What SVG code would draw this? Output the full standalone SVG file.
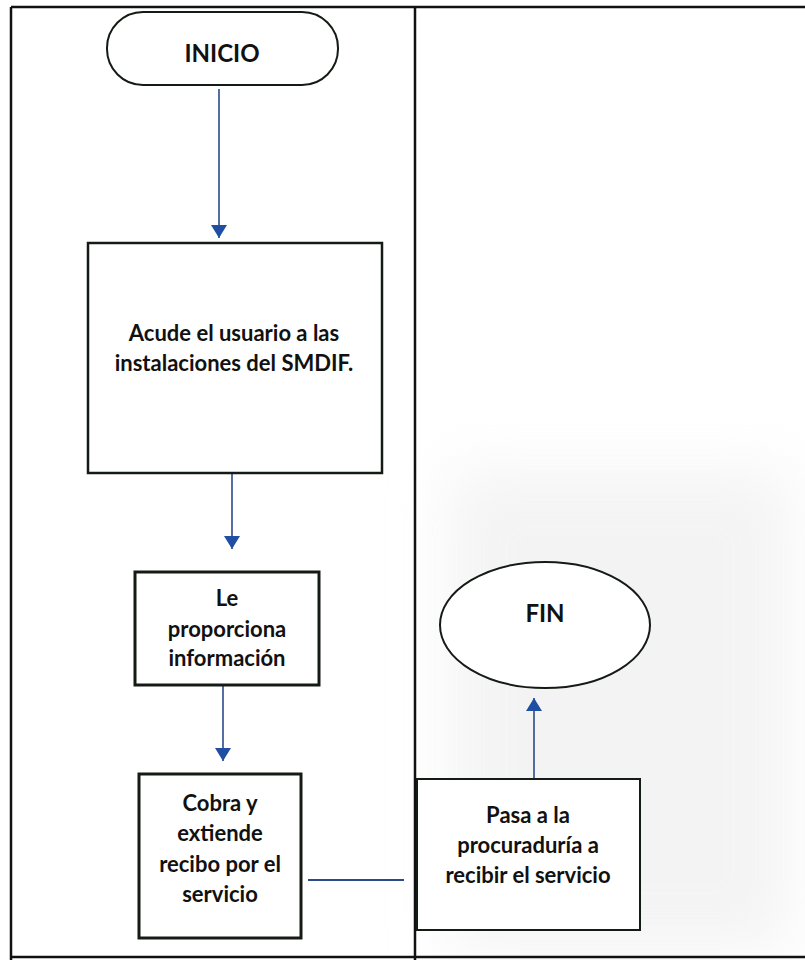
<svg xmlns="http://www.w3.org/2000/svg" width="805" height="960" viewBox="0 0 805 960">
  <defs>
    <style>
      .frame { fill: none; stroke: #111; stroke-width: 2.5; }
      .box { fill: #ffffff; stroke: #141a14; stroke-width: 2.5; }
      .thick { stroke-width: 3; }
      .thin { stroke-width: 2; }
      .lbl { font-family: Lato, "Open Sans", "Liberation Sans", sans-serif; font-weight: bold; font-size: 22px; fill: #111; text-anchor: middle; }
      .big { font-size: 24px; }
      .conn { fill: none; stroke: #2b4a8a; stroke-width: 1.6; }
      .plain { fill: none; stroke: #2b4a8a; stroke-width: 2.2; }
    </style>
    <marker id="arrow" viewBox="0 0 13 16" refX="13" refY="8" markerWidth="13" markerHeight="16" markerUnits="userSpaceOnUse" orient="auto">
      <path d="M0,0 L13,8 L0,16 z" fill="#1f4ea3"/>
    </marker>
    <filter id="blur" x="-20%" y="-20%" width="140%" height="140%">
      <feGaussianBlur stdDeviation="30"/>
    </filter>
  </defs>

  <rect width="805" height="960" fill="#ffffff"/>
  <rect x="450" y="470" width="340" height="480" fill="#ececec" opacity="0.6" filter="url(#blur)"/>

  <g id="frame">
    <line class="frame" x1="11" y1="7" x2="805" y2="7"/>
    <line class="frame" x1="11" y1="7" x2="11" y2="960"/>
    <line class="frame" x1="415" y1="7" x2="415" y2="960"/>
    <line class="frame" x1="11" y1="957" x2="805" y2="957"/>
  </g>

  <g id="connectors">
    <line class="conn" x1="219" y1="89" x2="219" y2="238" marker-end="url(#arrow)"/>
    <line class="conn" x1="232" y1="474" x2="232" y2="549" marker-end="url(#arrow)"/>
    <line class="conn" x1="223" y1="686" x2="223" y2="761" marker-end="url(#arrow)"/>
    <line class="conn" x1="534" y1="778" x2="534" y2="698" marker-end="url(#arrow)"/>
    <line class="plain" x1="308" y1="880" x2="404" y2="880"/>
  </g>

  <g id="inicio">
    <rect class="box thin" x="107" y="12" width="231" height="73" rx="36" ry="36"/>
    <text class="lbl big" x="222" y="62">INICIO</text>
  </g>

  <g id="acude">
    <rect class="box" x="88" y="243" width="294" height="230"/>
    <text class="lbl" x="234" y="341">Acude el usuario a las</text>
    <text class="lbl" x="234" y="371">instalaciones del SMDIF.</text>
  </g>

  <g id="proporciona">
    <rect class="box thick" x="135" y="572" width="184" height="113"/>
    <text class="lbl" x="227" y="606">Le</text>
    <text class="lbl" x="227" y="637">proporciona</text>
    <text class="lbl" x="227" y="666">información</text>
  </g>

  <g id="cobra">
    <rect class="box thick" x="139" y="774" width="162" height="164"/>
    <text class="lbl" x="220" y="811">Cobra y</text>
    <text class="lbl" x="220" y="841">extiende</text>
    <text class="lbl" x="220" y="872">recibo por el</text>
    <text class="lbl" x="220" y="902">servicio</text>
  </g>

  <g id="pasa">
    <rect class="box thin" x="417" y="779" width="223" height="151"/>
    <text class="lbl" x="528" y="823">Pasa a la</text>
    <text class="lbl" x="528" y="853">procuraduría a</text>
    <text class="lbl" x="528" y="883">recibir el servicio</text>
  </g>

  <g id="fin">
    <ellipse class="box thin" cx="545" cy="625" rx="105" ry="63"/>
    <text class="lbl big" x="545" y="622">FIN</text>
  </g>
</svg>
